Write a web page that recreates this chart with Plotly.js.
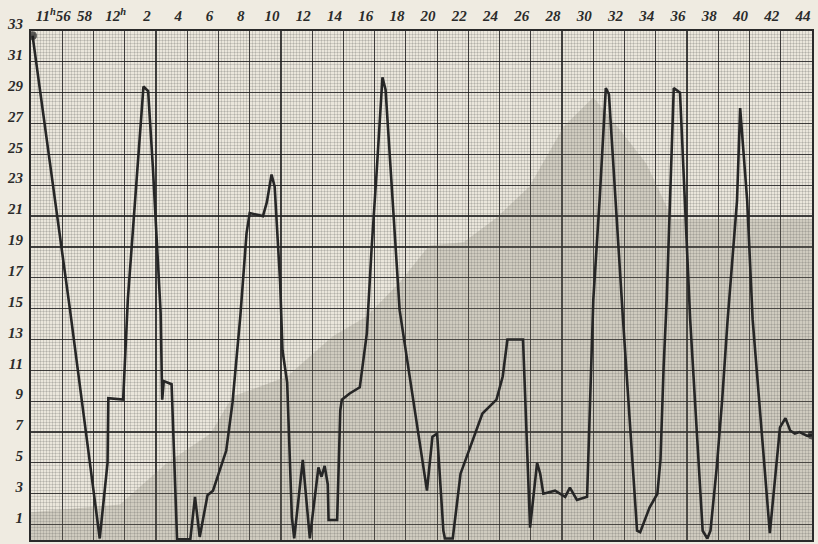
<!DOCTYPE html>
<html>
<head>
<meta charset="utf-8">
<script src="https://cdn.plot.ly/plotly-3.0.1.min.js"></script>
<style>
  html, body { margin: 0; padding: 0; background: #efebe1; }
  #chart { width: 818px; height: 544px; }
</style>
</head>
<body>
<div id="chart"></div>
<script>
// Time in minutes after 11h00 (56 = 11h56, 60 = 12h00, 104 = 12h44)
const timeMin = [54.1, 56.5, 58.4, 58.9, 58.95, 59.9, 60.2, 60.5, 61.0, 61.2, 61.5, 61.8, 62.3, 62.4, 62.5, 63.0, 63.35,
  64.2, 64.5, 64.8, 65.3, 65.65, 66.5, 66.9, 67.4, 67.8, 68.0, 68.85, 69.1, 69.4, 69.6, 69.95, 70.1, 70.4, 70.7, 70.85,
  71.4, 71.85, 72.4, 72.6, 72.8, 73.0, 73.05, 73.6, 73.8, 73.9, 74.4, 75.05, 75.5, 75.8, 76.15, 76.5, 76.7, 77.6, 79.35,
  79.7, 80.0, 80.4, 80.5, 81.0, 81.5, 81.9, 82.55, 82.9, 83.8, 84.2, 84.5, 85.5, 85.95, 86.4, 86.6, 86.8, 87.55, 88.2,
  88.5, 88.95, 89.6, 90.0, 90.4, 90.8, 91.0, 91.9, 92.8, 93.0, 93.6, 94.1, 94.3, 94.5, 94.7, 95.1, 95.15, 95.55, 96.2,
  97.0, 97.3, 97.5, 97.9, 98.25, 98.6, 99.2, 99.4, 99.85, 100.2, 101.3, 101.5, 101.95, 102.3, 102.6, 102.9, 103.2,
  103.7, 104.0];
const reading = [32.7, 14.9, 0.1, 5.0, 9.2, 9.1, 15.6, 19.9, 26.4, 29.4, 29.1, 24.2, 14.7, 9.1, 10.3, 10.1, 0.05,
  0.05, 2.8, 0.2, 2.9, 3.2, 5.8, 8.9, 14.5, 19.9, 21.2, 21.0, 21.9, 23.7, 22.9, 16.7, 12.3, 10.2, 1.5, 0.1,
  5.2, 0.1, 4.7, 4.1, 4.8, 3.6, 1.3, 1.3, 8.4, 9.1, 9.5, 9.9, 13.4, 18.8, 24.2, 30.0, 29.2, 14.9, 3.2,
  6.7, 6.9, 0.6, 0.1, 0.1, 4.3, 5.4, 7.3, 8.2, 9.1, 10.6, 13.0, 13.0, 0.8, 5.0, 4.3, 3.0, 3.2, 2.8,
  3.4, 2.6, 2.8, 15.6, 22.0, 29.3, 28.9, 14.3, 0.6, 0.5, 2.1, 3.0, 5.2, 11.2, 15.6, 28.9, 29.3, 29.0, 14.3,
  0.6, 0.1, 0.6, 4.7, 9.1, 14.3, 22.0, 28.0, 22.0, 14.3, 0.45, 2.6, 7.3, 7.9, 7.1, 6.9, 7.0,
  6.75, 6.8];

// Shaded background area of the sheet
const shadeX = [54, 54, 59.7, 62.7, 65.5, 66.9, 70.4, 73.3, 75.5, 77.6, 79.5, 81.7, 83.8, 85.9, 88.1, 90.0, 91.7, 93.4, 94.7, 95.0, 104, 104];
const shadeY = [0, 1.8, 2.3, 5.0, 6.9, 9.3, 10.6, 13.2, 14.5, 16.7, 19.1, 19.3, 20.9, 22.9, 26.8, 28.7, 26.6, 24.4, 21.6, 20.8, 20.8, 0];

// Tick labels
const xTickVals = [56, 58, 60, 62, 64, 66, 68, 70, 72, 74, 76, 78, 80, 82, 84, 86, 88, 90, 92, 94, 96, 98, 100, 102, 104];
const xTickText = ['11<sup>h</sup>56', '58', '12<sup>h</sup>', '2', '4', '6', '8', '10', '12', '14', '16', '18', '20',
  '22', '24', '26', '28', '30', '32', '34', '36', '38', '40', '42', '44'];
const yTickVals = [1, 3, 5, 7, 9, 11, 13, 15, 17, 19, 21, 23, 25, 27, 29, 31, 33];
const yTickText = ['1', '3', '5', '7', '9', '11', '13', '15', '17', '19', '21', '23', '25', '27', '29', '31', '33'];

const tickFont = { family: 'Liberation Serif, DejaVu Serif, serif', size: 15, color: '#2b2b2b', style: 'italic', weight: 'bold' };

const markerSizes = timeMin.map((_, i) => (i === 0 || i === timeMin.length - 1) ? 8 : 0);

const traces = [
  {
    x: shadeX, y: shadeY, type: 'scatter', mode: 'lines', fill: 'toself',
    fillcolor: 'rgba(120,115,105,0.24)', line: { width: 0 }, hoverinfo: 'skip', showlegend: false
  },
  {
    x: timeMin, y: reading, type: 'scatter', mode: 'lines+markers',
    line: { color: '#262626', width: 2.6 },
    marker: { size: markerSizes, color: '#1e1e1e' },
    showlegend: false
  }
];

const minorGrid = { dtick: 0.2, showgrid: true, gridcolor: 'rgba(60,60,60,0.28)', gridwidth: 0.6, ticks: '' };

const gridCommon = {
  showline: true, linecolor: '#2a2a2a', linewidth: 2, mirror: true,
  showgrid: true, gridcolor: 'rgba(35,35,35,0.85)', gridwidth: 1.2,
  zeroline: false, ticks: '', tickfont: tickFont
};

const layout = {
  width: 818, height: 544,
  margin: { l: 31, r: 6, t: 31, b: 4 },
  paper_bgcolor: '#efebe1',
  plot_bgcolor: '#eae6db',
  showlegend: false,
  xaxis: Object.assign({}, gridCommon, {
    side: 'top', range: [54, 104], tickmode: 'array', tickvals: xTickVals, ticktext: xTickText,
    ticklabelshift: -9, ticklabelstandoff: 2, minor: minorGrid
  }),
  yaxis: Object.assign({}, gridCommon, {
    range: [0, 33], tickmode: 'array', tickvals: yTickVals, ticktext: yTickText,
    ticklabelshift: -7, ticklabelstandoff: 3, minor: minorGrid
  })
};

Plotly.newPlot('chart', traces, layout, { displayModeBar: false, staticPlot: true });
</script>
</body>
</html>
